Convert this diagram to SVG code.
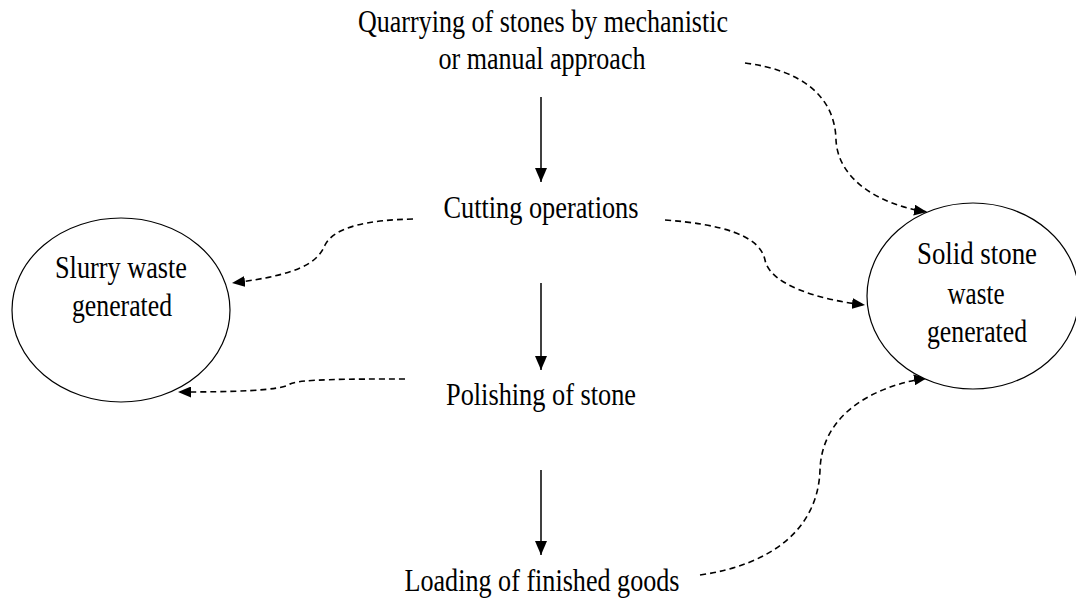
<svg xmlns="http://www.w3.org/2000/svg" width="1076" height="600" viewBox="0 0 1076 600">
<style>
text{font-family:"Liberation Serif","Times New Roman",serif;font-size:31px;fill:#000;text-anchor:middle}
.solid{stroke:#000;stroke-width:1.5;fill:none}
.dash{stroke:#000;stroke-width:1.6;fill:none;stroke-dasharray:6 4}
.node{fill:#fff;stroke:#000;stroke-width:1.2}
</style>
<defs>
<marker id="ah" markerUnits="userSpaceOnUse" markerWidth="14" markerHeight="12" viewBox="0 0 14 12" refX="14" refY="6" orient="auto">
<path d="M0,0 L14,6 L0,12 z" fill="#000"/>
</marker>
<marker id="dh" markerUnits="userSpaceOnUse" markerWidth="13" markerHeight="11" viewBox="0 0 13 11" refX="13" refY="5.5" orient="auto">
<path d="M0,0 L13,5.5 L0,11 z" fill="#000"/>
</marker>
</defs>
<g id="connectors">
<line class="solid" x1="541" y1="97" x2="541" y2="182" marker-end="url(#ah)"/>
<line class="solid" x1="541" y1="283" x2="541" y2="370" marker-end="url(#ah)"/>
<line class="solid" x1="541" y1="470" x2="541" y2="555" marker-end="url(#ah)"/>
<path class="dash" d="M413,219 C370,220 335,226 325,245 C318,262 300,275 232,283" marker-end="url(#dh)"/>
<path class="dash" d="M405,379 C350,379 300,379 290,384 C280,391 230,392 178,392" marker-end="url(#dh)"/>
<path class="dash" d="M745,63 C800,70 835,95 836,140 C838,180 880,205 927,212" marker-end="url(#dh)"/>
<path class="dash" d="M665,220 C720,224 760,235 765,260 C770,285 820,300 865,305" marker-end="url(#dh)"/>
<path class="dash" d="M700,575 C770,565 818,530 820,470 C822,410 880,385 927,378" marker-end="url(#dh)"/>
</g>
<g id="quarrying">
<text x="543" y="32" textLength="370" lengthAdjust="spacingAndGlyphs">Quarrying of stones by mechanistic</text>
<text x="542" y="69" textLength="207" lengthAdjust="spacingAndGlyphs">or manual approach</text>
</g>
<g id="cutting">
<text x="541" y="218" textLength="195" lengthAdjust="spacingAndGlyphs">Cutting operations</text>
</g>
<g id="polishing">
<text x="541" y="405" textLength="190" lengthAdjust="spacingAndGlyphs">Polishing of stone</text>
</g>
<g id="loading">
<text x="542" y="591" textLength="275" lengthAdjust="spacingAndGlyphs">Loading of finished goods</text>
</g>
<g id="slurry">
<ellipse class="node" cx="121" cy="310" rx="109" ry="92"/>
<text x="121" y="278" textLength="132" lengthAdjust="spacingAndGlyphs">Slurry waste</text>
<text x="122" y="316" textLength="100" lengthAdjust="spacingAndGlyphs">generated</text>
</g>
<g id="solid">
<ellipse class="node" cx="973" cy="296" rx="106" ry="93"/>
<text x="977" y="264" textLength="120" lengthAdjust="spacingAndGlyphs">Solid stone</text>
<text x="976" y="304" textLength="57" lengthAdjust="spacingAndGlyphs">waste</text>
<text x="977" y="342" textLength="100" lengthAdjust="spacingAndGlyphs">generated</text>
</g>
</svg>
